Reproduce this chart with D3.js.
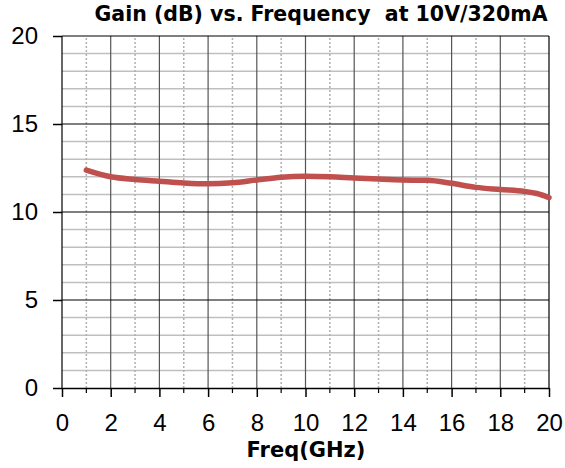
<!DOCTYPE html>
<html>
<head>
<meta charset="utf-8">
<script src="https://cdn.jsdelivr.net/npm/d3@7"></script>
<style>
  body { margin: 0; background: #fff; }
</style>
</head>
<body>
<div id="chart"></div>
<script>
// data
const freq = [1, 2, 3, 4, 5, 6, 7, 8, 9, 10, 11, 12, 13, 14, 15, 16, 17, 18, 19, 19.5, 20];
const gain = [12.38, 12.0, 11.85, 11.75, 11.65, 11.6, 11.66, 11.82, 11.98, 12.03, 12.0, 11.93, 11.87, 11.82, 11.8, 11.63, 11.4, 11.28, 11.17, 11.05, 10.82];
const xTicks = [0, 2, 4, 6, 8, 10, 12, 14, 16, 18, 20];
const yTicks = [0, 5, 10, 15, 20];

const width = 565;
const height = 468;
const margin = { top: 36, right: 16, bottom: 80, left: 62 };

const svg = d3.select('#chart')
  .append('svg')
  .attr('width', width)
  .attr('height', height);

const xScale = d3.scaleLinear().domain([0, 20]).range([margin.left, width - margin.right]);
const yScale = d3.scaleLinear().domain([0, 20]).range([height - margin.bottom, margin.top]);

const grid = svg.append('g').attr('class', 'grid');

// minor horizontal gridlines every 1 dB
grid.selectAll('line.hminor')
  .data(d3.range(1, 20).filter((d) => d % 5 !== 0))
  .join('line')
  .attr('x1', xScale(0)).attr('x2', xScale(20))
  .attr('y1', (d) => yScale(d)).attr('y2', (d) => yScale(d))
  .attr('stroke', '#bfbfbf').attr('stroke-width', 1.5);

// dotted vertical lines at odd GHz
grid.selectAll('line.vminor')
  .data(d3.range(1, 20, 2))
  .join('line')
  .attr('x1', (d) => xScale(d)).attr('x2', (d) => xScale(d))
  .attr('y1', yScale(0)).attr('y2', yScale(20))
  .attr('stroke', '#b0b0b0').attr('stroke-width', 1.5)
  .attr('stroke-dasharray', '2,2');

// solid vertical lines at even GHz
grid.selectAll('line.vmajor')
  .data(xTicks)
  .join('line')
  .attr('x1', (d) => xScale(d)).attr('x2', (d) => xScale(d))
  .attr('y1', yScale(0)).attr('y2', yScale(20))
  .attr('stroke', (d) => (d === 0 || d === 20) ? '#000' : '#555')
  .attr('stroke-width', 1.2);

// major horizontal lines every 5 dB
grid.selectAll('line.hmajor')
  .data(yTicks.filter((d) => d > 0))
  .join('line')
  .attr('x1', xScale(0)).attr('x2', xScale(20))
  .attr('y1', (d) => yScale(d)).attr('y2', (d) => yScale(d))
  .attr('stroke', '#000').attr('stroke-width', 1.2);

// Y axis
const yAxis = d3.axisLeft(yScale).tickValues(yTicks).tickSize(9).tickPadding(15);
svg.append('g')
  .attr('transform', `translate(${margin.left}, 0)`)
  .call(yAxis)
  .call((g) => g.select('.domain').remove())
  .call((g) => g.selectAll('line').attr('stroke', '#000').attr('stroke-width', 1.5))
  .call((g) => g.selectAll('text')
    .attr('font-family', 'Liberation Sans, Arial, sans-serif')
    .attr('font-size', 24)
    .attr('fill', '#000'));

// X axis
const xAxis = d3.axisBottom(xScale).tickValues(xTicks).tickSize(9).tickPadding(17).tickSizeOuter(0);
svg.append('g')
  .attr('transform', `translate(0, ${yScale(0)})`)
  .call(xAxis)
  .call((g) => g.select('.domain').attr('stroke', '#000').attr('stroke-width', 1.5))
  .call((g) => g.selectAll('line').attr('stroke', '#000').attr('stroke-width', 1.5))
  .call((g) => g.selectAll('text')
    .attr('font-family', 'Liberation Sans, Arial, sans-serif')
    .attr('font-size', 24)
    .attr('fill', '#000'));

// minor x ticks
svg.append('g').selectAll('line')
  .data(d3.range(1, 20, 2))
  .join('line')
  .attr('x1', (d) => xScale(d)).attr('x2', (d) => xScale(d))
  .attr('y1', yScale(0)).attr('y2', yScale(0) + 5)
  .attr('stroke', '#000').attr('stroke-width', 1.2);

// gain curve
const line = d3.line()
  .x((d, i) => xScale(freq[i]))
  .y((d) => yScale(d))
  .curve(d3.curveMonotoneX);

svg.append('path')
  .datum(gain)
  .attr('d', line)
  .attr('fill', 'none')
  .attr('stroke', '#c0504d')
  .attr('stroke-width', 5.5)
  .attr('stroke-linecap', 'round');

// title
svg.append('text')
  .attr('x', 321)
  .attr('y', 21)
  .attr('text-anchor', 'middle')
  .attr('font-family', 'DejaVu Sans, Verdana, sans-serif')
  .attr('font-weight', 'bold')
  .attr('font-size', 20.5)
  .style('white-space', 'pre')
  .text('Gain (dB) vs. Frequency  at 10V/320mA');

// x label
svg.append('text')
  .attr('x', 306)
  .attr('y', 457)
  .attr('text-anchor', 'middle')
  .attr('font-family', 'DejaVu Sans, Verdana, sans-serif')
  .attr('font-weight', 'bold')
  .attr('font-size', 21)
  .text('Freq(GHz)');
</script>
</body>
</html>
